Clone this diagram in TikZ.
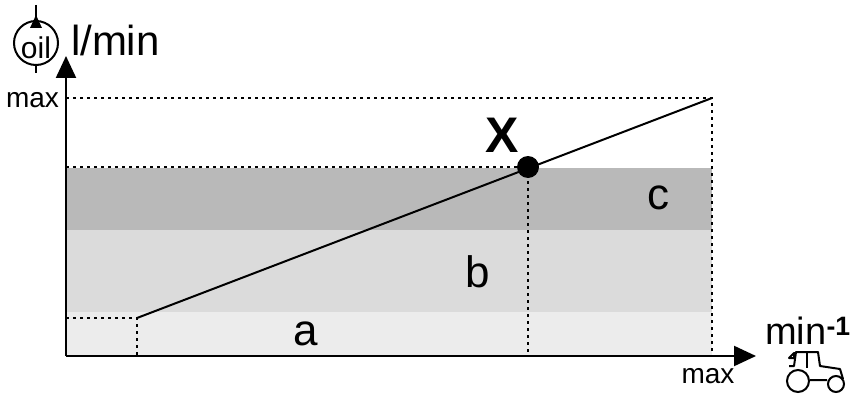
\documentclass[tikz,border=0pt]{standalone}
\usepackage{fontspec}
\setmainfont{Liberation Sans}
\usetikzlibrary{arrows.meta}
\begin{document}
\begin{tikzpicture}[
    x=1pt, y=-1pt,
    line width=2pt,
    guide/.style = {line width=1.6pt, dash pattern=on 2.5pt off 4.5pt},
    axis/.style = {line width=2.2pt, -{Triangle[length=22pt, width=20pt]}},
    lbl/.style = {font=\fontsize{44}{44}\selectfont, inner sep=0pt},
    small/.style = {font=\fontsize{28}{28}\selectfont, inner sep=0pt}]
    \useasboundingbox (0,0) rectangle (862,404);
    % BANDS
    \fill[gray!15] (66,312) rectangle (712,356);
    \fill[gray!28] (66,230) rectangle (712,312);
    \fill[gray!55] (66,168) rectangle (712,230);
    % COORDINATES
    \coordinate (O) at (66,356);
    \coordinate (start) at (137,318);
    \coordinate (end) at (712,98);
    \coordinate (ymax) at (66,98);
    \coordinate (xmax) at (712,356);
    \coordinate (yx) at (66,167);
    \coordinate (xx) at (528,356);
    \coordinate (ya) at (66,318);
    \coordinate (xa) at (137,356);
    \coordinate (ytop) at (66,56);
    \coordinate (xright) at (756,356);
    % GUIDES
    \draw[guide] (ymax) -- (end) -- (xmax);
    \draw[guide] (yx) -- (528,167) -- (xx);
    \draw[guide] (ya) -- (start) -- (xa);
    % CURVE
    \draw (start) -- (end);
    \node[circle, fill=black, minimum size=22pt, inner sep=0pt] (X) at (528,167) {};
    % AXES
    \draw[axis] (O) -- (ytop);
    \draw[axis] (O) -- (xright);
    % LABELS
    \node[small, anchor=east] (maxy) at (60,100) {max};
    \node[small] (maxx) at (708,376) {max};
    \node[font=\fontsize{50}{50}\selectfont\bfseries, inner sep=0pt] (xlab) at (502,135) {X};
    \node[lbl] (c) at (658,198) {c};
    \node[lbl] (b) at (478,272) {b};
    \node[lbl] (a) at (306,334) {a};
    \node[font=\fontsize{42}{42}\selectfont, inner sep=0pt, anchor=west] (ylab) at (70,40) {l/min};
    \node[font=\fontsize{38}{38}\selectfont, inner sep=0pt] (xlab) at (808,331) {min\textsuperscript{\bfseries -1}};
    % OIL ICON
    \draw (36,43) circle (22);
    \draw (36,5) -- (36,21) (36,65) -- (36,73);
    \fill (36,15) -- (42,28) -- (30,28) -- cycle;
    \node[font=\fontsize{30}{30}\selectfont, inner sep=0pt] (oil) at (36,48) {oil};
    % TRACTOR
    \draw (798,381) circle (11);
    \draw (836,384) circle (8);
    \draw[line join=round] (789,366) -- (794,366) -- (796,352) -- (818,352) -- (820,366) -- (840,369) -- (843,379)
      (810,380) -- (827,380) (794,353) -- (794,358) -- (789,358) -- cycle;
    \draw (807,352) -- (807,368);
\end{tikzpicture}
\end{document}
